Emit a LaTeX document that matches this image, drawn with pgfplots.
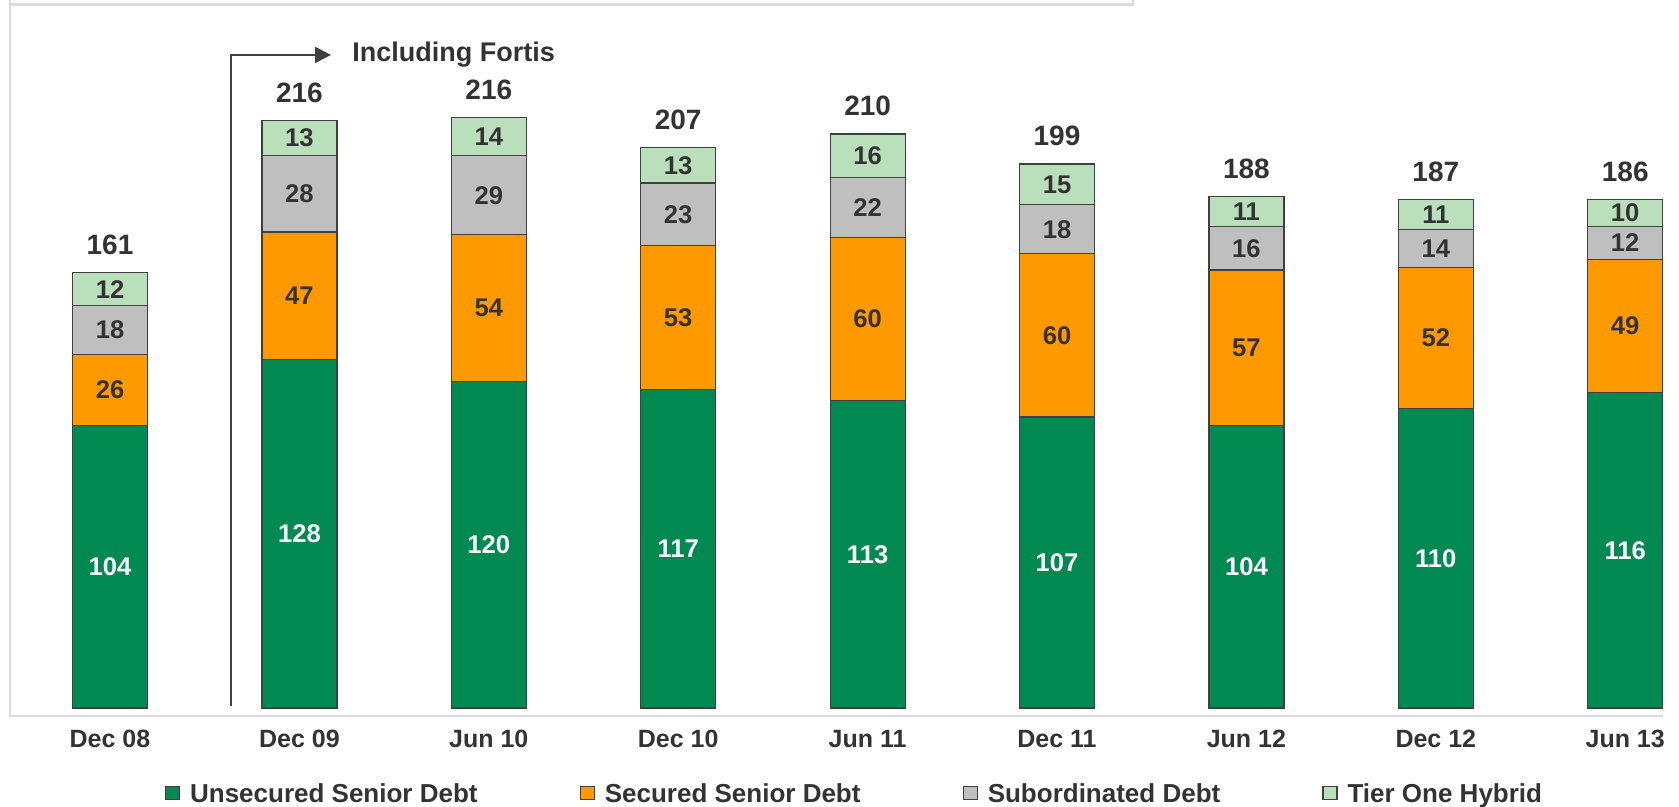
\documentclass[border=0pt]{standalone}
\usepackage{fontspec}
\setmainfont{Liberation Sans}
\usepackage{pgfplots}
\pgfplotsset{compat=1.18}
\usetikzlibrary{arrows.meta}

\definecolor{unsec}{HTML}{008A52}
\definecolor{sec}{HTML}{FF9900}
\definecolor{subd}{HTML}{BFBFBF}
\definecolor{tier}{HTML}{B9E0BA}
\definecolor{txt}{HTML}{333333}
\definecolor{edge}{HTML}{404040}
\definecolor{frame}{HTML}{DADADA}

\pgfplotsset{
    chartbox/.style={
        scale only axis,
        width=839.5pt, height=358pt,
        xmin=-0.5808, xmax=8.284,
        ymin=-2.94, ymax=260.3,
        clip=false,
        /pgf/number format/assume math mode=true,
    },
}

\begin{document}
\begin{tikzpicture}
\begin{axis}[
    chartbox,
    axis line style={draw=none},
    ybar stacked,
    bar width=0.396,
    xtick={0,...,8},
    xticklabels={Dec 08,Dec 09,Jun 10,Dec 10,Jun 11,Dec 11,Jun 12,Dec 12,Jun 13},
    major tick length=0pt,
    ytick=\empty,
    xticklabel style={anchor=center, yshift=-11.5pt,
        font=\fontsize{12.5}{14}\selectfont\bfseries, text=txt},
    legend columns=4,
    legend style={at={(axis cs:0.29,-31.8)}, anchor=west, draw=none, fill=none,
        inner sep=0pt, outer sep=0pt,
        font=\fontsize{13}{15}\selectfont\bfseries, text=txt,
        /tikz/every odd column/.append style={column sep=3pt},
        /tikz/every even column/.append style={column sep=49pt}},
    seg/.style 2 args={draw=edge, line width=0.6pt, fill=#1,
        legend image code/.code={\draw[##1,draw=edge,line width=0.6pt] (0pt,-2.3pt) rectangle (7pt,4pt);},
        nodes near coords,
        every node near coord/.style={anchor=center,
            font=\fontsize{12.8}{14}\selectfont\bfseries, text=#2}},
]
% unsecured senior debt
\addplot[seg={unsec}{white}] coordinates {
 (0,104) (1,128) (2,120) (3,117) (4,113) (5,107) (6,104) (7,110) (8,116)};
\addlegendentry{Unsecured Senior Debt}
% secured senior debt
\addplot[seg={sec}{txt}] coordinates {
 (0,26) (1,47) (2,54) (3,53) (4,60) (5,60) (6,57) (7,52) (8,49)};
\addlegendentry{Secured Senior Debt}
% subordinated
\addplot[seg={subd}{txt}] coordinates {
 (0,18) (1,28) (2,29) (3,23) (4,22) (5,18) (6,16) (7,14) (8,12)};
\addlegendentry{Subordinated Debt}
% tier one hybrid
\addplot[seg={tier}{txt}] coordinates {
 (0,12) (1,13) (2,14) (3,13) (4,16) (5,15) (6,11) (7,11) (8,10)};
\addlegendentry{Tier One Hybrid}

% frame
\draw[frame, line width=1.2pt] (axis cs:-0.528,260.3) -- (axis cs:-0.528,-2.94) -- (axis cs:8.200,-2.94);
\draw[frame, line width=1.2pt] (axis cs:-0.528,258.6) -- (axis cs:5.401,258.6) -- (axis cs:5.401,260.3);
% Fortis marker
\draw[edge, line width=1pt, -{Triangle[length=8pt,width=8pt]}]
  (axis cs:0.637,0.74) -- (axis cs:0.637,240.1) -- (axis cs:1.167,240.1);
\node[anchor=base west, inner sep=0pt, text=txt, font=\fontsize{13.5}{15}\selectfont\bfseries]
  at (axis cs:1.278,237.6) {Including Fortis};

\coordinate (bbsw) at (axis cs:-0.5808,-36.03);
\coordinate (bbne) at (axis cs:8.284,260.3);
\end{axis}

% totals above the stacks
\begin{axis}[chartbox, hide axis]
\addplot[draw=none, mark=none, point meta=explicit symbolic,
    nodes near coords,
    every node near coord/.style={anchor=center, yshift=14pt,
        font=\fontsize{14}{16}\selectfont\bfseries, text=txt}] coordinates {
 (0,160) [161] (1,216) [216] (2,217) [216] (3,206) [207] (4,211) [210]
 (5,200) [199] (6,188) [188] (7,187) [187] (8,187) [186]};
\end{axis}
\pgfresetboundingbox
\path[use as bounding box] (bbsw) rectangle (bbne);
\end{tikzpicture}
\end{document}
